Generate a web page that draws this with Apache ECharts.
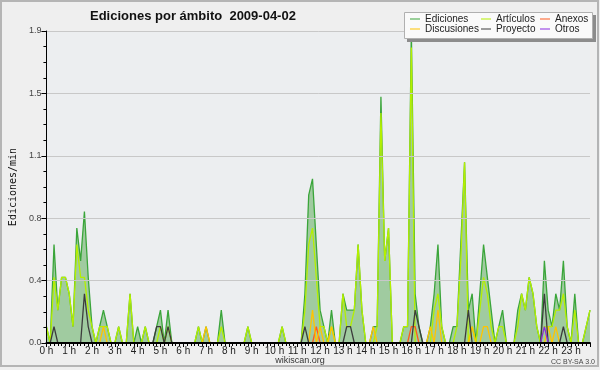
<!DOCTYPE html>
<html><head><meta charset="utf-8">
<script src="https://cdn.jsdelivr.net/npm/echarts@6/dist/echarts.min.js"></script>
<style>html,body{margin:0;padding:0;background:#efefef}#c{width:600px;height:370px}</style>
</head><body><div id="c"></div><script>
// tick labels of the x axis (one per hour, 6 samples of 10 min per hour)
const hourLabels = ['0 h','1 h','2 h','3 h','4 h','5 h','6 h','7 h','8 h','9 h','10 h','11 h',
  '12 h','13 h','14 h','15 h','16 h','17 h','18 h','19 h','20 h','21 h','22 h','23 h'];
// edits per minute, one value per 10 minutes (rows = hours)
const ediciones = [
  0.1,0,0.6,0.2,0.4,0.4,  0.3,0.1,0.7,0.5,0.8,0.4,  0.1,0,0.1,0.2,0.1,0,  0,0.1,0,0,0.3,0,
  0.1,0,0.1,0,0,0.1,  0.2,0,0.2,0,0,0,  0,0,0,0,0.1,0,  0.1,0,0,0,0.2,0,
  0,0,0,0,0,0.1,  0,0,0,0,0,0,  0,0,0.1,0,0,0,  0,0,0.3,0.9,1.0,0.6,
  0.2,0.1,0,0.2,0,0,  0.3,0.2,0.2,0.2,0.6,0.2,  0,0,0.1,0.1,1.5,0.5,  0.7,0,0,0,0.1,0.1,
  1.9,0.3,0.1,0,0,0.1,  0.3,0.6,0.1,0,0,0.1,  0.1,0.6,1.1,0.2,0.3,0,  0.3,0.6,0.4,0.2,0,0.1,
  0.2,0,0,0,0.2,0.3,  0.2,0.4,0.3,0.1,0,0.5,  0.2,0.1,0.3,0.2,0.5,0.1,  0,0.3,0,0,0.1,0.2
];
const articulos = [
  0.1,0,0.4,0.2,0.4,0.4,  0.3,0.1,0.6,0.4,0.4,0.2,  0.1,0,0.1,0.1,0.1,0,  0,0.1,0,0,0.3,0,
  0,0,0.1,0,0,0,  0.1,0,0.1,0,0,0,  0,0,0,0,0.1,0,  0,0,0,0,0.1,0,
  0,0,0,0,0,0.1,  0,0,0,0,0,0,  0,0,0.1,0,0,0,  0,0,0.2,0.6,0.7,0.4,
  0.1,0.1,0,0.1,0,0,  0.3,0.1,0.1,0.2,0.6,0.2,  0,0,0,0.1,1.4,0.5,  0.7,0,0,0,0.1,0.1,
  1.8,0,0,0,0,0,  0.2,0.3,0.1,0,0,0,  0.1,0.5,1.1,0,0.1,0,  0.2,0.4,0.3,0.1,0,0.1,
  0.1,0,0,0,0.1,0.3,  0.2,0.4,0.3,0.1,0,0.1,  0.1,0.1,0.2,0.2,0.3,0.1,  0,0.2,0,0,0.1,0.2
];
const anexos = [
  0,0,0,0,0,0,  0,0,0,0,0,0,  0,0,0,0,0,0,  0,0,0,0,0,0,
  0,0,0,0,0,0,  0,0,0,0,0,0,  0,0,0,0,0,0,  0,0,0,0,0,0,
  0,0,0,0,0,0,  0,0,0,0,0,0,  0,0,0,0,0,0,  0,0,0,0,0,0.1,
  0,0,0,0,0,0,  0,0,0,0,0,0,  0,0,0,0,0,0,  0,0,0,0,0,0,
  0.1,0.1,0,0,0,0,  0,0,0,0,0,0,  0,0,0,0,0,0,  0,0,0,0,0,0,
  0,0,0,0,0,0,  0,0,0,0,0,0,  0,0,0,0,0,0,  0,0,0,0,0,0
];
const discusiones = [
  0,0,0,0,0,0,  0,0,0,0,0,0,  0,0,0,0.1,0,0,  0,0,0,0,0,0,
  0,0,0,0,0,0,  0,0,0,0,0,0,  0,0,0,0,0,0,  0.1,0,0,0,0,0,
  0,0,0,0,0,0,  0,0,0,0,0,0,  0,0,0,0,0,0,  0,0,0,0,0.2,0,
  0.1,0,0,0.1,0,0,  0,0,0,0,0,0,  0,0,0.1,0,0,0,  0,0,0,0,0,0,
  0,0,0,0,0,0.1,  0,0.2,0,0,0,0,  0,0,0,0,0.1,0,  0,0.1,0.1,0,0,0,
  0,0,0,0,0,0,  0,0,0,0,0,0,  0.1,0,0.1,0,0,0,  0,0,0,0,0,0
];
const proyecto = [
  0,0,0.1,0,0,0,  0,0,0,0,0.3,0.1,  0,0,0,0,0,0,  0,0,0,0,0,0,
  0,0,0,0,0,0.1,  0.1,0,0.1,0,0,0,  0,0,0,0,0,0,  0,0,0,0,0,0,
  0,0,0,0,0,0,  0,0,0,0,0,0,  0,0,0,0,0,0,  0,0,0.1,0,0,0,
  0,0,0,0,0,0,  0,0.1,0.1,0,0,0,  0,0,0,0,0,0,  0,0,0,0,0,0,
  0,0.2,0.1,0,0,0,  0,0,0,0,0,0,  0,0,0,0.2,0,0,  0,0,0,0,0,0,
  0,0,0,0,0,0,  0,0,0,0,0,0.3,  0,0,0,0,0.1,0,  0,0,0,0,0,0
];
const otros = [
  0,0,0,0,0,0,  0,0,0,0,0,0,  0,0,0,0,0,0,  0,0,0,0,0,0,
  0,0,0,0,0,0,  0,0,0,0,0,0,  0,0,0,0,0,0,  0,0,0,0,0,0,
  0,0,0,0,0,0,  0,0,0,0,0,0,  0,0,0,0,0,0,  0,0,0,0,0,0,
  0,0,0,0,0,0,  0,0,0,0,0,0,  0,0,0,0,0,0,  0,0,0,0,0,0,
  0,0,0,0,0,0,  0,0,0,0,0,0,  0,0,0,0,0,0,  0,0,0,0,0,0,
  0,0,0,0,0,0,  0,0,0,0,0,0.1,  0,0,0,0,0,0,  0,0,0,0,0,0
];
const seriesNames = ['Ediciones','Artículos','Anexos','Discusiones','Proyecto','Otros'];
const yMax = 1.9, yStep = 0.38;

const FONT = '"Liberation Sans", Arial, sans-serif';
const colors = {
  'Ediciones':'#3aa53a','Artículos':'#b4ef00','Anexos':'#ff5a1e',
  'Discusiones':'#ffc400','Proyecto':'#3c3c3c','Otros':'#8a2be2'
};
const pts = a => a.map((v, i) => [i, v]);
const mk = (name, data, extra) => Object.assign({
  name, type: 'line', data: pts(data), showSymbol: false, symbol: 'none',
  lineStyle: { color: colors[name], width: 1.3 }, itemStyle: { color: colors[name] },
  emphasis: { disabled: true }, silent: true
}, extra || {});

const legendPos = [[410,14],[481,14],[540,14],[410,24],[481,24],[540,24]];
const legends = seriesNames.map((n, k) => ({
  data: [n], left: legendPos[k][0], top: legendPos[k][1], icon: 'rect',
  itemWidth: 10, itemHeight: 1, padding: 0, selectedMode: false, z: 20,
  textStyle: { fontFamily: FONT, fontSize: 10, color: '#222', padding: [0,0,0,0] }
}));

const chart = echarts.init(document.getElementById('c'));
chart.setOption({
  animation: false,
  backgroundColor: '#efefef',
  title: { text: 'Ediciones por ámbito  2009-04-02', left: 85, top: 5,
    textStyle: { fontFamily: FONT, fontSize: 13, fontWeight: 'bold', color: '#111' } },
  legend: legends,
  grid: { left: 46, right: 10, top: 31, bottom: 27, show: true, backgroundColor: '#eceef0', borderWidth: 0 },
  xAxis: { type: 'value', min: 0, max: ediciones.length - 1, interval: 6, z: 5,
    axisLine: { show: true, onZero: false, lineStyle: { color: '#000', width: 2 } },
    axisTick: { show: true, length: 4, lineStyle: { color: '#000' } },
    minorTick: { show: true, splitNumber: 6, length: 3, lineStyle: { color: '#000' } },
    axisLabel: { formatter: v => (v % 6 === 0 ? hourLabels[v / 6] : ''), fontFamily: FONT,
      fontSize: 10, color: '#222', margin: 3, showMaxLabel: false },
    splitLine: { show: false } },
  yAxis: { type: 'value', min: 0, max: yMax, interval: yStep, z: 5,
    name: 'Ediciones/min', nameLocation: 'middle', nameRotate: 90, nameGap: 28,
    nameTextStyle: { fontFamily: '"DejaVu Sans Mono", monospace', fontSize: 10, color: '#111' },
    axisLine: { show: true, lineStyle: { color: '#000', width: 1 } },
    axisTick: { show: true, length: 5, lineStyle: { color: '#000' } },
    minorTick: { show: true, splitNumber: 4, length: 3, lineStyle: { color: '#000' } },
    axisLabel: { formatter: v => v.toFixed(1), fontFamily: FONT, fontSize: 9, color: '#444', margin: 5 },
    splitLine: { show: true, lineStyle: { color: '#c8c8c8', width: 1 } } },
  graphic: [
    { type: 'rect', z: 0, silent: true, shape: { x: 1, y: 1, width: 597, height: 365 },
      style: { fill: 'none', stroke: '#b5b5b5', lineWidth: 2 } },
    { type: 'rect', z: 18, silent: true, shape: { x: 407, y: 15, width: 189, height: 27 },
      style: { fill: '#8c8c8c' } },
    { type: 'rect', z: 19, silent: true, shape: { x: 404.5, y: 12.5, width: 188, height: 26 },
      style: { fill: '#fafafa', stroke: '#b0b0b0', lineWidth: 1 } },
    { type: 'text', z: 20, silent: true, style: { text: 'wikiscan.org', x: 300, y: 361, align: 'center',
      verticalAlign: 'middle', font: '9px "Liberation Sans", Arial, sans-serif', fill: '#333' } },
    { type: 'text', z: 20, silent: true, style: { text: 'CC BY-SA 3.0', x: 595, y: 362, align: 'right',
      verticalAlign: 'middle', font: '7px "Liberation Sans", Arial, sans-serif', fill: '#444' } }
  ],
  series: [
    mk('Ediciones', ediciones, { areaStyle: { color: '#a0cba0', opacity: 1 } }),
    mk('Artículos', articulos),
    mk('Anexos', anexos),
    mk('Discusiones', discusiones),
    mk('Proyecto', proyecto),
    mk('Otros', otros)
  ]
});
</script></body></html>
